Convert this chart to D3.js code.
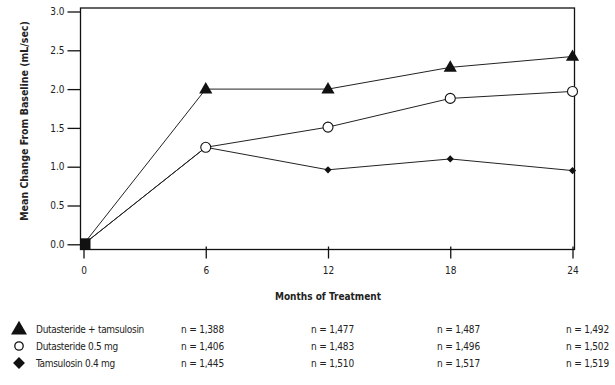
<!DOCTYPE html>
<html>
<head>
<meta charset="utf-8">
<script src="https://cdn.jsdelivr.net/npm/d3@7"></script>
<style>
  body { margin: 0; background: #fff; }
  svg text { font-family: "Liberation Sans Narrow", "DejaVu Sans Condensed", sans-serif; fill: #222; }
</style>
</head>
<body>
<div id="main"></div>
<script>
var months = [0, 6, 12, 18, 24];
var yTicks = [0.0, 0.5, 1.0, 1.5, 2.0, 2.5, 3.0];
var seriesNames = ["Dutasteride + tamsulosin", "Dutasteride 0.5 mg", "Tamsulosin 0.4 mg"];
var combo = [0, 2.0, 2.0, 2.28, 2.42];
var dutasteride = [0, 1.25, 1.51, 1.88, 1.97];
var tamsulosin = [0, 1.25, 0.96, 1.10, 0.95];
var nCombo = ["1,388", "1,477", "1,487", "1,492"];
var nDuta = ["1,406", "1,483", "1,496", "1,502"];
var nTams = ["1,445", "1,510", "1,517", "1,519"];

var W = 615, H = 385;
var frame = { left: 80.5, right: 574.5, top: 8, bottom: 249.5 };

var svg = d3.select('#main').append('svg').attr('width', W).attr('height', H);

var x = d3.scaleLinear().domain([0, 24]).range([83.5, 572.5]);
var y = d3.scaleLinear().domain([0, 3]).range([244.3, 11.5]);

// frame
svg.append('rect')
  .attr('x', frame.left).attr('y', frame.top)
  .attr('width', frame.right - frame.left).attr('height', frame.bottom - frame.top)
  .attr('fill', 'none').attr('stroke', '#111').attr('stroke-width', 1.3);

// y axis ticks + labels
var yAxis = d3.axisLeft(y).tickValues(yTicks).tickFormat(d3.format('.1f')).tickSize(13).tickPadding(3);
var gy = svg.append('g').attr('transform', 'translate(' + frame.left + ',0)').call(yAxis);
gy.select('.domain').remove();
gy.selectAll('line').attr('stroke', '#111').attr('stroke-width', 1.3);
gy.selectAll('text').style('font-size', '10px').attr('fill', '#333');

// x axis ticks + labels
var xAxis = d3.axisBottom(x).tickValues(months).tickSize(12).tickPadding(8);
var gx = svg.append('g').attr('transform', 'translate(0,' + (frame.bottom - 3) + ')').call(xAxis);
gx.select('.domain').remove();
gx.selectAll('line').attr('stroke', '#111').attr('stroke-width', 1.3);
gx.selectAll('text').style('font-size', '10px').attr('fill', '#333');

// axis titles
svg.append('text')
  .attr('x', 328).attr('y', 300).attr('text-anchor', 'middle')
  .style('font-size', '10px').style('font-weight', 'bold')
  .text('Months of Treatment');
svg.append('text')
  .attr('transform', 'translate(28,121) rotate(-90)').attr('text-anchor', 'middle')
  .style('font-size', '10.5px').style('font-weight', 'bold')
  .text('Mean Change From Baseline (mL/sec)');

// lines
var line = d3.line().x(function(d, i) { return x(months[i]); }).y(function(d) { return y(d); });
[tamsulosin, dutasteride, combo].forEach(function(s) {
  svg.append('path').attr('d', line(s)).attr('fill', 'none')
    .attr('stroke', '#222').attr('stroke-width', 1);
});

var tri = d3.symbol().type(d3.symbolTriangle).size(75);
var dia = d3.symbol().type(d3.symbolSquare).size(26);

function drawMarkers(data, kind) {
  var g = svg.append('g');
  data.forEach(function(v, i) {
    if (i === 0) return;
    var px = x(months[i]), py = y(v);
    if (kind === 'circle') {
      g.append('circle').attr('cx', px).attr('cy', py).attr('r', 5)
        .attr('fill', '#fff').attr('stroke', '#111').attr('stroke-width', 1.1);
    } else if (kind === 'tri') {
      g.append('path').attr('d', tri())
        .attr('transform', 'translate(' + px + ',' + (py + 0.5) + ')')
        .attr('fill', '#111');
    } else {
      g.append('path').attr('d', dia())
        .attr('transform', 'translate(' + px + ',' + py + ') rotate(45)')
        .attr('fill', '#111');
    }
  });
}
drawMarkers(tamsulosin, 'dia');
drawMarkers(dutasteride, 'circle');
drawMarkers(combo, 'tri');

// shared baseline marker
svg.append('rect')
  .attr('x', x(0) - 3).attr('y', y(0) - 6)
  .attr('width', 10).attr('height', 11).attr('fill', '#111');

// legend with n counts
var rowsY = [333, 350, 367];
var nRows = [nCombo, nDuta, nTams];
var nColX = [181, 311, 437, 566];
var bigTri = d3.symbol().type(d3.symbolTriangle).size(110);
var bigDia = d3.symbol().type(d3.symbolSquare).size(70);
rowsY.forEach(function(ry, r) {
  if (r === 0) {
    svg.append('path').attr('d', bigTri()).attr('transform', 'translate(19,' + (ry - 3) + ')').attr('fill', '#111');
  } else if (r === 1) {
    svg.append('circle').attr('cx', 19).attr('cy', ry - 4).attr('r', 4.2)
      .attr('fill', '#fff').attr('stroke', '#111').attr('stroke-width', 1.3);
  } else {
    svg.append('path').attr('d', bigDia()).attr('transform', 'translate(19,' + (ry - 4) + ') rotate(45)').attr('fill', '#111');
  }
  svg.append('text').attr('x', 36).attr('y', ry).style('font-size', '10px')
    .style('letter-spacing', '-0.3px').attr('fill', '#333')
    .text(seriesNames[r]);
  nRows[r].forEach(function(n, c) {
    svg.append('text').attr('x', nColX[c]).attr('y', ry).style('font-size', '10px')
      .style('letter-spacing', '-0.2px').attr('fill', '#333')
      .text('n = ' + n);
  });
});
</script>
</body>
</html>
